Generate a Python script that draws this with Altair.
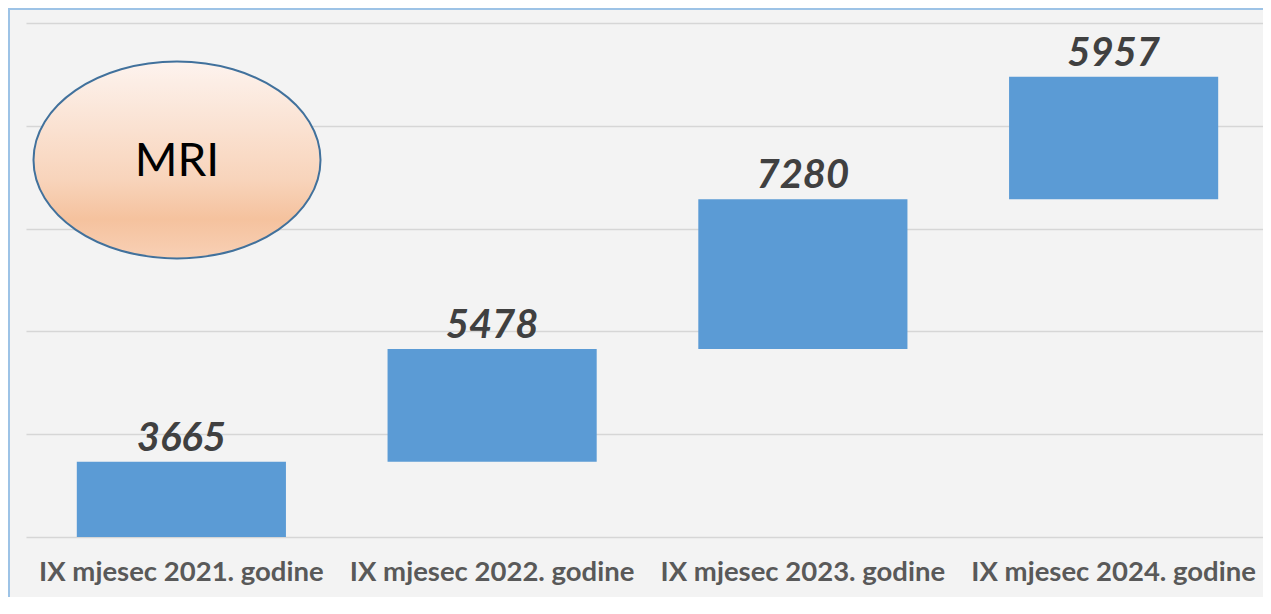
import altair as alt
import pandas as pd

categories = ["IX mjesec 2021. godine", "IX mjesec 2022. godine",
              "IX mjesec 2023. godine", "IX mjesec 2024. godine"]
values = [3665, 5478, 7280, 5957]
y_ticks = [0, 5000, 10000, 15000, 20000, 25000]
badge_text = ["MRI"]

ends = pd.Series(values).cumsum()
df = pd.DataFrame({
    "cat": categories,
    "value": values,
    "start": ends - pd.Series(values),
    "end": ends,
})

W, H = 1237, 514

x = alt.X("cat:N", sort=categories, title=None,
          scale=alt.Scale(paddingInner=0.327, paddingOuter=0.1635, range=[0, 1243]),
          axis=alt.Axis(labelAngle=0, domain=False, ticks=False, labelLimit=600,
                        labelFont="Lato", labelFontSize=27.5, labelFontWeight="bold",
                        labelColor="#595959", labelPadding=21, grid=False))
y = alt.Y("start:Q", title=None,
          scale=alt.Scale(domain=[0, 25000], nice=False, zero=True),
          axis=alt.Axis(values=y_ticks, labels=False, ticks=False, domain=False,
                        grid=True, gridColor="#d6d6d6", gridWidth=1.5))

bars = alt.Chart(df).mark_bar(color="#5B9BD5", opacity=1).encode(
    x=x, y=y, y2="end:Q")

labels = alt.Chart(df).mark_text(
    font="Lato", fontSize=40, fontWeight="bold", fontStyle="italic",
    color="#404040", baseline="alphabetic", dy=-11
).encode(x=alt.X("cat:N", sort=categories), y=alt.Y("end:Q"), text="value:Q")

badge_df = pd.DataFrame({"t": badge_text})
ellipse = alt.Chart(badge_df).mark_point(
    shape="M -1 0 A 1 0.686 0 1 0 1 0 A 1 0.686 0 1 0 -1 0 Z",
    size=287 * 287, filled=True, opacity=1,
    fill=alt.Gradient(gradient="linear", x1=0, y1=0, x2=0, y2=1,
                      stops=[alt.GradientStop(color="#fdf3ee", offset=0),
                             alt.GradientStop(color="#f8d4bb", offset=0.6),
                             alt.GradientStop(color="#f5c29e", offset=0.8),
                             alt.GradientStop(color="#f8d0b5", offset=1)]),
    stroke="#41719c", strokeWidth=2, fillOpacity=1, strokeOpacity=1
).encode(x=alt.value(151), y=alt.value(137))

badge = alt.Chart(badge_df).mark_text(
    font="Lato", fontSize=46, color="#000000", baseline="middle", align="center"
).encode(x=alt.value(151), y=alt.value(139), text="t:N")

frame_top = alt.Chart(badge_df).mark_rule(color="#9dc3e6", strokeWidth=2).encode(
    x=alt.value(-26), x2=alt.value(1237), y=alt.value(-14))
frame_left = alt.Chart(badge_df).mark_rule(color="#9dc3e6", strokeWidth=2).encode(
    x=alt.value(-17), y=alt.value(-14), y2=alt.value(580))
frame_mid = alt.Chart(badge_df).mark_rule(color="#9dc3e6", strokeWidth=2).encode(
    x=alt.value(779), y=alt.value(-15), y2=alt.value(-23))

chart = alt.layer(bars, labels, ellipse, badge, frame_top, frame_left, frame_mid).properties(
    width=W, height=H,
    padding={"left": 18, "top": 15, "right": 0, "bottom": 60},
    autosize=alt.AutoSizeParams(type="none"),
    background="#f3f3f3",
).configure_view(stroke=None)

chart.save("out.html", embed_options={"renderer": "svg", "actions": False})
